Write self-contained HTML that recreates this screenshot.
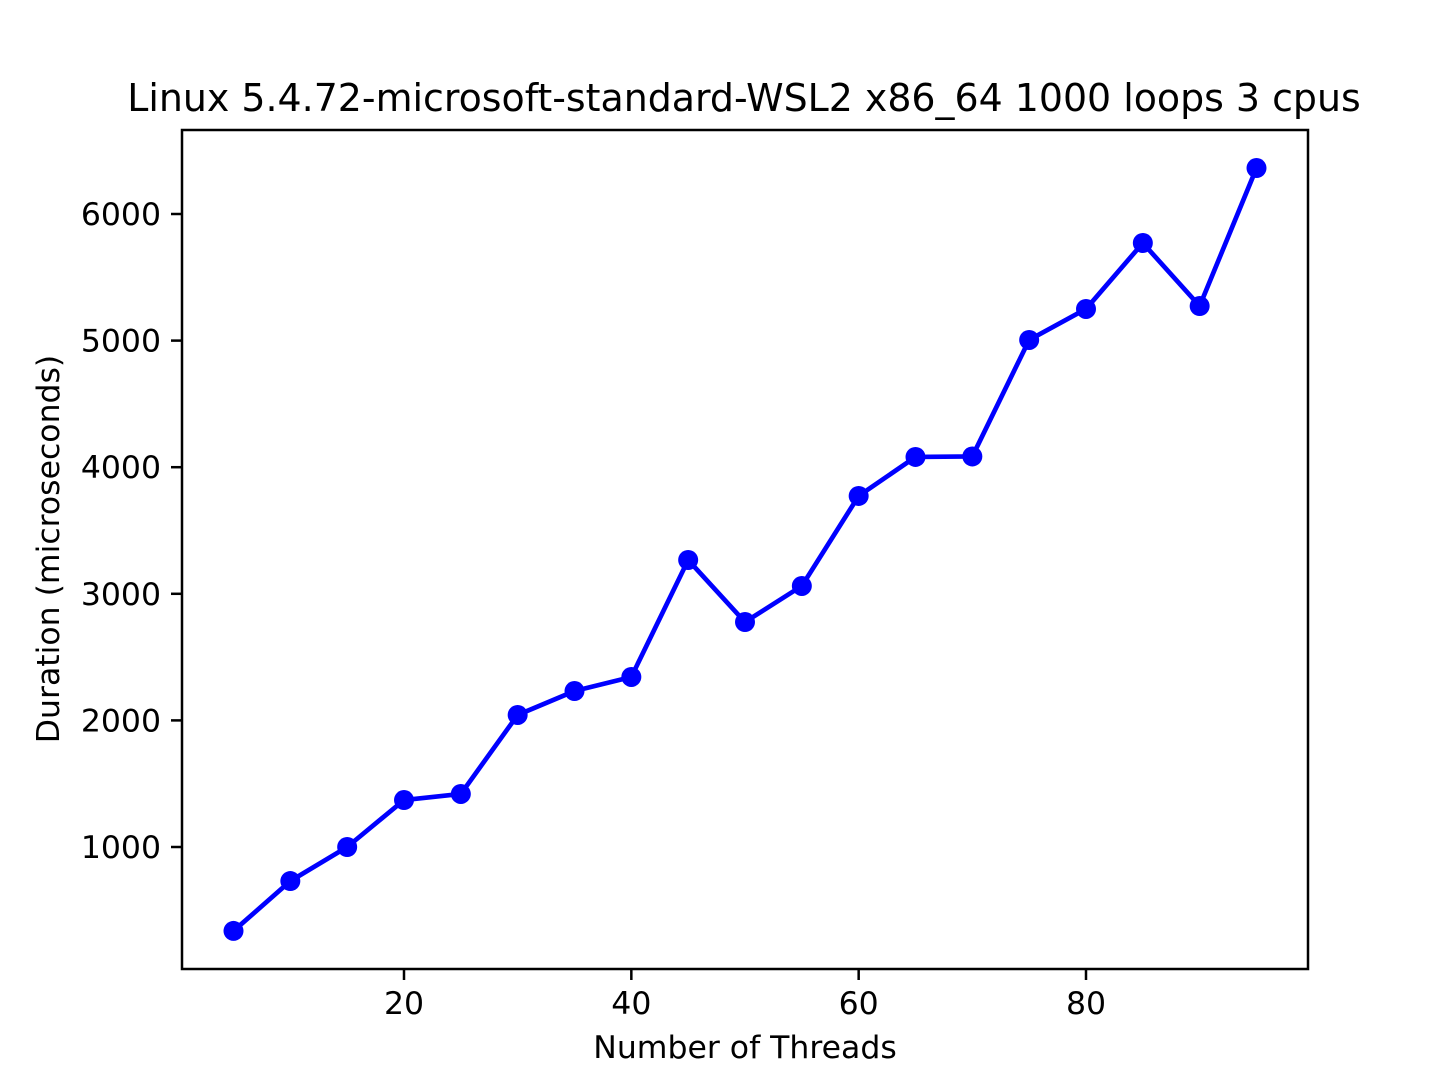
<!DOCTYPE html>
<html><head><meta charset="utf-8"><style>
html,body{margin:0;padding:0;background:#fff;}
svg{display:block;font-family:"DejaVu Sans","Liberation Sans",sans-serif;}
</style></head><body>
<svg id="chart" width="1452" height="1089" viewBox="0 0 1452 1089" xmlns="http://www.w3.org/2000/svg">
<rect width="1452" height="1089" fill="#fff"/>
<text x="744" y="111" font-size="37.9" text-anchor="middle" fill="#000">Linux 5.4.72-microsoft-standard-WSL2 x86_64 1000 loops 3 cpus</text>
<text x="745" y="1058" font-size="31.5" text-anchor="middle" fill="#000">Number of Threads</text>
<text x="0" y="0" font-size="31.5" text-anchor="middle" fill="#000" transform="translate(59,549) rotate(-90)">Duration (microseconds)</text>
<g id="ticks"></g>
<g id="series"></g>
<rect x="182" y="130" width="1126" height="839" fill="none" stroke="#000" stroke-width="2.5"/>
</svg>
<script>
const threads = [5,10,15,20,25,30,35,40,45,50,55,60,65,70,75,80,85,90,95];
const durations = [337,731,1000,1371,1419,2043,2232,2343,3267,2777,3062,3773,4081,4085,5005,5250,5771,5273,6363];
const xTicks = [20,40,60,80];
const yTicks = [1000,2000,3000,4000,5000,6000];

const NS = "http://www.w3.org/2000/svg";
function xs(v){ return 404 + (v-20)*(1086-404)/60; }
function ys(v){ return 847 - (v-1000)*(847-214)/5000; }

const tg = document.getElementById('ticks');
xTicks.forEach(t=>{
  const l=document.createElementNS(NS,'line');
  
  
  l.setAttribute('x1',xs(t));l.setAttribute('x2',xs(t));l.setAttribute('y1',969);l.setAttribute('y2',980);
  l.setAttribute('stroke','#000');l.setAttribute('stroke-width','2.5');tg.appendChild(l);
  const tx=document.createElementNS(NS,'text');
  
  
  tx.setAttribute('x',xs(t));tx.setAttribute('y',1014);tx.setAttribute('font-size','31.5');
  tx.setAttribute('text-anchor','middle');tx.textContent=t;tg.appendChild(tx);
});
yTicks.forEach(t=>{
  const l=document.createElementNS(NS,'line');
  
  
  l.setAttribute('x1',171);l.setAttribute('x2',182);l.setAttribute('y1',ys(t));l.setAttribute('y2',ys(t));
  l.setAttribute('stroke','#000');l.setAttribute('stroke-width','2.5');tg.appendChild(l);
  const tx=document.createElementNS(NS,'text');
  
  
  tx.setAttribute('x',161);tx.setAttribute('y',ys(t)+11);tx.setAttribute('font-size','31.5');
  tx.setAttribute('text-anchor','end');tx.textContent=t;tg.appendChild(tx);
});

const sg = document.getElementById('series');
const pl=document.createElementNS(NS,'polyline');


pl.setAttribute('points',threads.map((t,i)=>xs(t)+','+ys(durations[i])).join(' '));
pl.setAttribute('fill','none');pl.setAttribute('stroke','#0000ff');pl.setAttribute('stroke-width','4.7');
pl.setAttribute('stroke-linejoin','round');
sg.appendChild(pl);
threads.forEach((t,i)=>{
  const c=document.createElementNS(NS,'circle');
  
  
  c.setAttribute('cx',xs(t));c.setAttribute('cy',ys(durations[i]));c.setAttribute('r','10');
  c.setAttribute('fill','#0000ff');sg.appendChild(c);
});
</script>
</body></html>
